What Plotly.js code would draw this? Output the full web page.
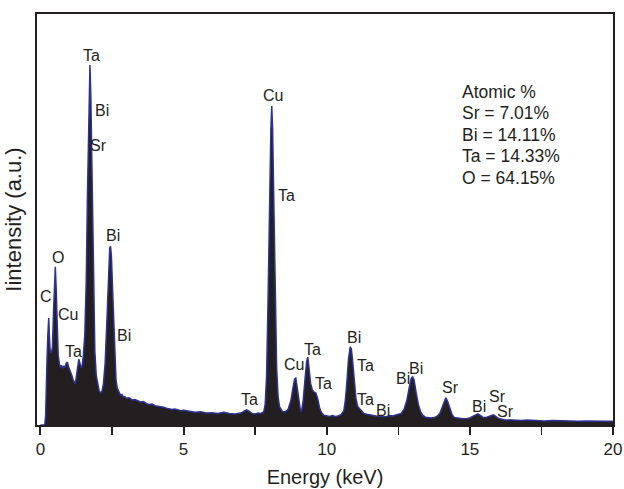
<!DOCTYPE html>
<html>
<head>
<meta charset="utf-8">
<script src="https://cdn.plot.ly/plotly-3.0.1.min.js"></script>
<style>html,body{margin:0;padding:0;background:#fff;}#chart{width:624px;height:489px;}</style>
</head>
<body>
<div id="chart"></div>
<script>
// EDS spectrum
const energy = [0.00,0.15,0.18,0.20,0.23,0.26,0.29,0.31,0.34,0.38,0.42,0.46,0.50,0.52,0.55,0.58,0.62,0.66,0.70,0.74,0.78,0.82,0.86,0.90,0.94,0.98,1.02,1.06,1.10,1.14,1.18,1.22,1.26,1.30,1.34,1.38,1.42,1.46,1.50,1.55,1.60,1.64,1.68,1.71,1.73,1.76,1.79,1.82,1.86,1.90,1.95,2.00,2.05,2.10,2.15,2.20,2.26,2.32,2.37,2.42,2.45,2.48,2.52,2.56,2.60,2.64,2.68,2.72,2.76,2.80,2.85,2.90,2.95,3.00,3.1,3.2,3.3,3.4,3.5,3.6,3.7,3.8,3.9,4.0,4.1,4.2,4.3,4.4,4.5,4.6,4.7,4.8,4.9,5.0,5.2,5.4,5.6,5.8,6.0,6.2,6.4,6.6,6.8,7.0,7.1,7.2,7.3,7.4,7.5,7.6,7.7,7.8,7.85,7.9,7.95,8.0,8.05,8.08,8.11,8.15,8.2,8.25,8.3,8.35,8.45,8.55,8.65,8.75,8.82,8.88,8.92,8.97,9.02,9.08,9.12,9.18,9.24,9.30,9.34,9.38,9.44,9.5,9.56,9.62,9.68,9.75,9.82,9.9,10.0,10.1,10.2,10.3,10.4,10.5,10.6,10.65,10.7,10.76,10.82,10.86,10.9,10.96,11.02,11.08,11.15,11.22,11.3,11.4,11.5,11.6,11.7,11.8,11.9,12.0,12.1,12.2,12.3,12.4,12.5,12.6,12.7,12.8,12.88,12.95,13.0,13.05,13.12,13.2,13.28,13.35,13.45,13.55,13.65,13.75,13.85,13.95,14.03,14.1,14.16,14.22,14.3,14.38,14.46,14.6,14.75,14.9,15.0,15.1,15.2,15.28,15.35,15.45,15.55,15.65,15.75,15.82,15.9,16.0,16.2,16.4,16.6,16.8,17.0,17.3,17.6,17.9,18.2,18.5,18.8,19.1,19.4,19.7,20.0];
const intensity = [0,0,2,10,16,22,26,22,18,17.5,19,28,37,38.5,33,24,17,15,14,14.5,13.8,14.4,14,15,15.3,14.2,13.5,13,12,11,10.5,10,12,14.5,16,15,14,14.5,17,22,35,55,75,86,87.6,80,65,45,28,18,12,9.5,8.3,7.8,8.2,10,15,25,36,43,43.5,41,33,24,16,11,9,8.3,7.8,7.2,7.4,6.8,6.9,6.5,6.6,6.1,6.2,5.8,5.6,5.7,5.2,5.0,5.1,4.7,4.6,4.4,4.3,4.1,4.0,3.8,3.9,3.6,3.5,3.6,3.3,3.1,3.2,2.9,3.0,2.8,3.1,2.8,2.7,2.9,3.3,3.7,3.3,2.8,2.7,2.9,2.8,3.2,5,12,30,55,72,77.6,72,55,30,14,7,4.5,3.3,3.2,3.8,6,9,11.2,11.4,9,5.5,3.6,3.3,6,11,15.5,16.5,14,10,8.5,8,7.8,6.5,4.2,3,2.4,2.2,2.1,2.3,2.1,2.2,2.5,3.5,6,10,16,19,18.5,16,11,6.5,4.5,4,3.4,2.8,2.6,2.5,2.4,2.3,2.1,2.2,2.0,2.1,2.3,2.2,2.4,2.5,2.8,3.8,6,9,11.3,11.7,11,8,5,3.2,2.4,1.9,1.8,1.7,1.8,2.1,2.8,4.2,5.8,6.6,5.8,3.9,2.5,1.8,1.6,1.5,1.6,1.7,2.1,2.5,2.7,2.4,1.9,1.8,2.0,2.3,2.5,2.1,1.6,1.3,1.2,1.2,1.1,1.2,1.1,1.0,1.1,1.0,1.0,0.9,1.0,0.9,0.9,0.9];

// peak labels
const peakLabels = ["Ta","Bi","Sr","O","C","Cu","Ta","Bi","Bi","Cu","Ta","Ta","Cu","Ta","Ta","Bi","Ta","Ta","Bi","Bi","Bi","Sr","Bi","Sr","Sr"];
const peakLabelX = [1.78,2.15,2.02,0.62,0.20,0.95,1.14,2.54,2.91,8.11,8.61,7.31,8.84,9.52,9.89,10.97,11.34,11.34,11.98,12.66,13.12,14.31,15.32,15.98,16.23];
const peakLabelY = [90.0,76.5,67.9,40.7,31.2,26.8,18.0,46.2,21.7,80.1,55.8,6.1,14.8,18.4,10.0,21.2,14.4,6.1,3.6,11.4,13.8,9.1,4.6,6.9,3.4];

// composition box
const compositionLines = ["Atomic %","Sr = 7.01%","Bi = 14.11%","Ta = 14.33%","O = 64.15%"];

const xTicks = [0,5,10,15,20];

const FONT = "Liberation Sans, Arial, Helvetica, sans-serif";
const INK = "#231f20";

const annotations = [];
peakLabels.forEach((t,i)=>{
  annotations.push({x:peakLabelX[i], y:peakLabelY[i], xref:'x', yref:'y', text:t, showarrow:false,
    xanchor:'center', yanchor:'middle', font:{family:FONT,size:16,color:INK}});
});
compositionLines.forEach((t,i)=>{
  annotations.push({x:14.66, y:81.1 - i*5.25, xref:'x', yref:'y', text:t, showarrow:false,
    xanchor:'left', yanchor:'middle', font:{family:FONT,size:17.5,color:INK}});
});

const trace = {
  x: energy, y: intensity, type:'scatter', mode:'lines',
  fill:'tozeroy', fillcolor:INK,
  line:{color:'#2e3192', width:1.5},
  hoverinfo:'skip'
};

const layout = {
  width:624, height:489,
  margin:{l:37, r:11, t:14, b:64},
  paper_bgcolor:'#fff', plot_bgcolor:'#fff',
  showlegend:false,
  font:{family:FONT, color:INK},
  xaxis:{
    range:[-0.12,20], tickvals:xTicks, ticktext:xTicks.map(String),
    ticks:'outside', ticklen:8, tickwidth:2, tickcolor:INK,
    minor:{dtick:2.5, tick0:0, ticks:'outside', ticklen:8, tickwidth:1.5, tickcolor:INK},
    showline:true, linewidth:2, linecolor:INK, mirror:true,
    showgrid:false, zeroline:false,
    tickfont:{family:FONT,size:17,color:INK},
    title:{text:'Energy (keV)', font:{family:FONT,size:20,color:INK}, standoff:12}
  },
  yaxis:{
    range:[0,100], showticklabels:false, ticks:'',
    showline:true, linewidth:2, linecolor:INK, mirror:true,
    showgrid:false, zeroline:false,
    title:{text:'Iintensity (a.u.)', font:{family:FONT,size:22,color:INK}, standoff:7}
  },
  annotations: annotations
};

Plotly.newPlot('chart',[trace],layout,{staticPlot:true, displayModeBar:false});
</script>
</body>
</html>
